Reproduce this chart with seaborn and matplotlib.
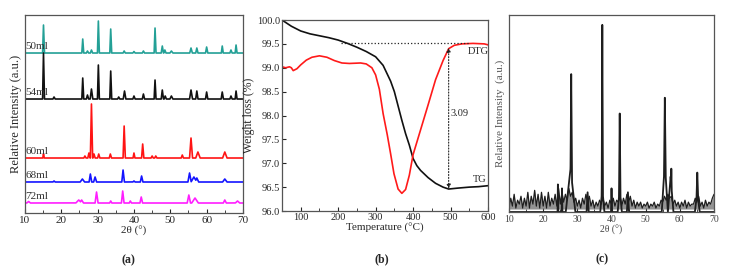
import numpy as np
import pandas as pd
import matplotlib
matplotlib.use('Agg')
import matplotlib.pyplot as plt
import seaborn as sns
from matplotlib.ticker import MultipleLocator

# (a) XRD - picos: (2theta, altura, largura)
samples = ['50ml', '54ml', '60ml', '68ml', '72ml']
sample_colors = ['#23a096', '#111111', '#ff1414', '#1414ff', '#ff1eff']
peaks_50 = [(15.1, 28, 0.25), (25.9, 14, 0.25), (27.2, 2, 0.3), (28.3, 3, 0.3), (30.2, 32, 0.25),
            (33.6, 24, 0.25), (37.3, 2, 0.3), (40.0, 1.5, 0.3), (42.6, 2, 0.3), (45.8, 25, 0.25),
            (47.8, 7, 0.3), (48.5, 3, 0.3), (50.3, 2, 0.4), (55.7, 5, 0.35), (57.3, 5, 0.3),
            (60.0, 6, 0.3), (64.3, 7, 0.25), (66.7, 3, 0.3), (68.1, 8, 0.25)]
peaks_54 = [(15.1, 46, 0.25), (18.0, 2, 0.3), (25.9, 21, 0.25), (27.2, 4, 0.3), (28.3, 10, 0.35),
            (30.2, 34, 0.25), (33.6, 28, 0.25), (35.8, 2, 0.3), (37.4, 8, 0.35), (40.0, 3, 0.3),
            (42.6, 5, 0.3), (45.8, 19, 0.25), (47.8, 9, 0.3), (48.6, 3, 0.3), (50.3, 3, 0.4),
            (55.7, 9, 0.4), (57.3, 8, 0.3), (60.0, 7, 0.3), (64.3, 7, 0.3), (66.7, 3, 0.3),
            (68.1, 8, 0.25)]
peaks_60 = [(15.1, 4, 0.2), (26.5, 2, 0.3), (27.6, 5, 0.3), (28.3, 54, 0.3), (29.0, 4, 0.3),
            (30.3, 4, 0.3), (33.5, 4, 0.3), (37.3, 32, 0.3), (40.0, 5, 0.25), (42.4, 14, 0.3),
            (45.0, 2, 0.3), (46.0, 2, 0.3), (53.3, 3, 0.3), (55.7, 20, 0.4), (57.6, 6, 0.6),
            (65.0, 6, 0.6)]
peaks_68 = [(18.0, 1, 0.3), (25.8, 3, 0.6), (28.0, 8, 0.35), (29.3, 5, 0.4), (37.0, 12, 0.35),
            (40.0, 1, 0.3), (42.1, 6, 0.35), (55.3, 9, 0.45), (56.5, 5, 0.8), (57.3, 4, 0.5),
            (65.0, 3, 0.6)]
peaks_72 = [(11.0, 1.5, 0.5), (24.8, 3, 0.8), (25.6, 3, 0.5), (29.7, 11, 0.4), (33.6, 2, 0.3),
            (36.9, 12, 0.35), (39.0, 2, 0.3), (42.0, 6, 0.35), (55.1, 8, 0.45), (56.8, 5, 0.9),
            (65.0, 3, 0.4), (68.5, 2, 0.6)]
sample_peaks = [peaks_50, peaks_54, peaks_60, peaks_68, peaks_72]
offsets = [160, 114, 55, 31, 10]

# (b) TG / DTG
tg_temp = [50, 75, 100, 125, 150, 175, 200, 225, 250, 275, 300, 320, 340, 350, 360, 370, 380,
           390, 400, 410, 420, 440, 460, 480, 495, 520, 550, 575, 600]
tg = [100.0, 99.87, 99.77, 99.71, 99.67, 99.63, 99.58, 99.51, 99.43, 99.34, 99.23, 99.05, 98.72,
      98.50, 98.20, 97.90, 97.62, 97.38, 97.10, 96.95, 96.85, 96.70, 96.58, 96.50, 96.46, 96.48,
      96.50, 96.51, 96.53]
dtg_temp = [50, 60, 70, 75, 80, 90, 100, 115, 130, 150, 170, 190, 210, 230, 260, 275, 290, 300,
            310, 320, 331, 340, 349, 360, 370, 380, 390, 400, 420, 440, 460, 480, 495, 510, 530,
            560, 590, 600]
dtg = [99.02, 99.00, 99.02, 99.00, 98.94, 98.98, 99.06, 99.16, 99.22, 99.25, 99.22, 99.15, 99.10,
       99.09, 99.10, 99.08, 99.00, 98.85, 98.55, 98.04, 97.60, 97.20, 96.78, 96.46, 96.37, 96.45,
       96.75, 97.18, 97.70, 98.22, 98.75, 99.15, 99.40, 99.47, 99.50, 99.51, 99.50, 99.48]

# (c) XRD ruidoso: fundo a cada 0.5 grau de 10 a 70 e picos
noise = [0.02, 0.07, 0.03, 0.09, 0.02, 0.06, 0.04, 0.08, 0.02, 0.07,
         0.03, 0.10, 0.02, 0.08, 0.04, 0.11, 0.03, 0.09, 0.02, 0.10,
         0.03, 0.08, 0.02, 0.10, 0.03, 0.07, 0.04, 0.09, 0.03, 0.12,
         0.04, 0.10, 0.05, 0.09, 0.06, 0.12, 0.08, 0.10, 0.05, 0.07,
         0.03, 0.06, 0.02, 0.07, 0.04, 0.09, 0.05, 0.08, 0.03, 0.06,
         0.02, 0.05, 0.03, 0.06, 0.04, 0.07, 0.03, 0.05, 0.02, 0.06,
         0.04, 0.07, 0.03, 0.06, 0.05, 0.08, 0.03, 0.07, 0.04, 0.09,
         0.05, 0.08, 0.03, 0.06, 0.02, 0.05, 0.03, 0.05, 0.02, 0.04,
         0.03, 0.05, 0.02, 0.04, 0.03, 0.05, 0.02, 0.04, 0.03, 0.06,
         0.05, 0.08, 0.06, 0.09, 0.07, 0.08, 0.04, 0.06, 0.03, 0.05,
         0.02, 0.05, 0.03, 0.06, 0.02, 0.05, 0.03, 0.04, 0.04, 0.07,
         0.05, 0.08, 0.03, 0.05, 0.02, 0.06, 0.03, 0.05, 0.04, 0.07,
         0.09]
peaks_c = [(24.3, 0.14, 0.1), (25.5, 0.12, 0.1), (28.0, 0.22, 1.4), (28.2, 0.70, 0.3),
           (33.0, 0.10, 0.3), (37.3, 0.12, 0.6), (37.3, 0.95, 0.2), (40.0, 0.12, 0.15),
           (42.4, 0.12, 0.6), (42.4, 0.50, 0.25), (44.8, 0.10, 0.3), (55.6, 0.25, 0.9),
           (55.6, 0.58, 0.35), (57.3, 0.18, 0.8), (57.5, 0.22, 0.2), (65.1, 0.10, 0.7),
           (65.1, 0.20, 0.35)]


def perfil(peaks, x):
    y = np.zeros_like(x)
    for p, h, w in peaks:
        y = np.maximum(y, h * np.clip(1 - np.abs(x - p) / w, 0, None))
    return y


sns.set_style('ticks')
plt.rcParams['font.family'] = ['Liberation Serif', 'DejaVu Serif']
plt.rcParams['xtick.direction'] = 'in'
plt.rcParams['ytick.direction'] = 'in'

fig = plt.figure(figsize=(7.43, 2.70), dpi=100)
ax1 = fig.add_axes([0.0336, 0.2111, 0.2934, 0.7333])
ax2 = fig.add_axes([0.3795, 0.2185, 0.2773, 0.7074])
ax3 = fig.add_axes([0.6851, 0.2148, 0.2759, 0.7296])

# painel (a)
grid = np.linspace(10, 70, 2401)
frames = []
for nome, pk, off in zip(samples, sample_peaks, offsets):
    frames.append(pd.DataFrame({'theta': grid, 'I': off + perfil(pk, grid), 'amostra': nome}))
xrd = pd.concat(frames)
sns.lineplot(data=xrd, x='theta', y='I', hue='amostra', palette=dict(zip(samples, sample_colors)),
             estimator=None, legend=False, lw=1.2, ax=ax1)
for nome, off in zip(samples, offsets):
    ax1.text(10.2, off + 2, nome, fontsize=8, color='#333333', va='bottom', ha='left')
ax1.set_xlim(10, 70)
ax1.set_ylim(0, 198)
ax1.set_yticks([])
ax1.xaxis.set_major_locator(MultipleLocator(10))
ax1.xaxis.set_minor_locator(MultipleLocator(5))
ax1.tick_params(axis='x', labelsize=8, length=3, pad=2)
ax1.tick_params(axis='x', which='minor', length=2)
ax1.set_xlabel('2θ (°)', fontsize=8, labelpad=1)
ax1.set_ylabel('Relative Intensity (a.u.)', fontsize=9, labelpad=2)

# painel (b)
sns.lineplot(x=tg_temp, y=tg, color='#111111', lw=1.2, ax=ax2)
sns.lineplot(x=dtg_temp, y=dtg, color='#ff1a1a', lw=1.2, ax=ax2)
ax2.plot([207, 550], [99.52, 99.52], ls=':', color='#222222', lw=0.9)
ax2.annotate('', xy=(495, 99.42), xytext=(495, 96.47),
             arrowprops=dict(arrowstyle='<|-|>', ls=':', color='#222222', lw=0.8,
                             mutation_scale=6, shrinkA=0, shrinkB=0))
ax2.text(501, 98.04, '3.09', fontsize=7.5, va='center', ha='left')
ax2.text(545, 99.35, 'DTG', fontsize=7.5, va='center', ha='left')
ax2.text(559, 96.67, 'TG', fontsize=7.5, va='center', ha='left')
ax2.set_xlim(50, 600)
ax2.set_ylim(96.0, 100.0)
ax2.xaxis.set_major_locator(MultipleLocator(100))
ax2.xaxis.set_minor_locator(MultipleLocator(50))
ax2.yaxis.set_major_locator(MultipleLocator(0.5))
ax2.yaxis.set_major_formatter('{x:.1f}')
ax2.tick_params(labelsize=7.5, length=3, pad=1.5)
ax2.tick_params(which='minor', length=2)
ax2.set_xlabel('Temperature (°C)', fontsize=8, labelpad=1)
ax2.set_ylabel('Weight loss (%)', fontsize=8.5, labelpad=1)

# painel (c)
theta_c = np.linspace(10, 70, len(noise))
ax3.fill_between(theta_c, 0.015, noise, color='#666666', alpha=0.7, lw=0)
sns.lineplot(x=theta_c, y=noise, color='#1e1e1e', lw=0.9, ax=ax3)
sns.lineplot(x=grid, y=perfil(peaks_c, grid), color='#1e1e1e', lw=1.3, ax=ax3)
ax3.set_xlim(10, 70)
ax3.set_ylim(0, 1.0)
ax3.set_yticks([])
ax3.xaxis.set_major_locator(MultipleLocator(10))
ax3.xaxis.set_minor_locator(MultipleLocator(5))
ax3.tick_params(axis='x', labelsize=7, length=3, pad=2, labelcolor='#444444')
ax3.tick_params(axis='x', which='minor', length=2)
ax3.set_xlabel('2θ (°)', fontsize=7, labelpad=1, color='#444444')
ax3.set_ylabel('Relative Intensity  (a.u.)', fontsize=8, labelpad=3, color='#555555')

for ax in [ax1, ax2, ax3]:
    for s in ax.spines.values():
        s.set_visible(True)
        s.set_color('#555555')
        s.set_linewidth(0.9)

fig.text(128 / 743, 1 - 260 / 270, '(a)', fontsize=8.5, fontweight='bold', ha='center', va='center')
fig.text(382 / 743, 1 - 259 / 270, '(b)', fontsize=8.5, fontweight='bold', ha='center', va='center')
fig.text(602 / 743, 1 - 259 / 270, '(c)', fontsize=8.5, fontweight='bold', ha='center', va='center')

fig.savefig('out.png', dpi=100)
